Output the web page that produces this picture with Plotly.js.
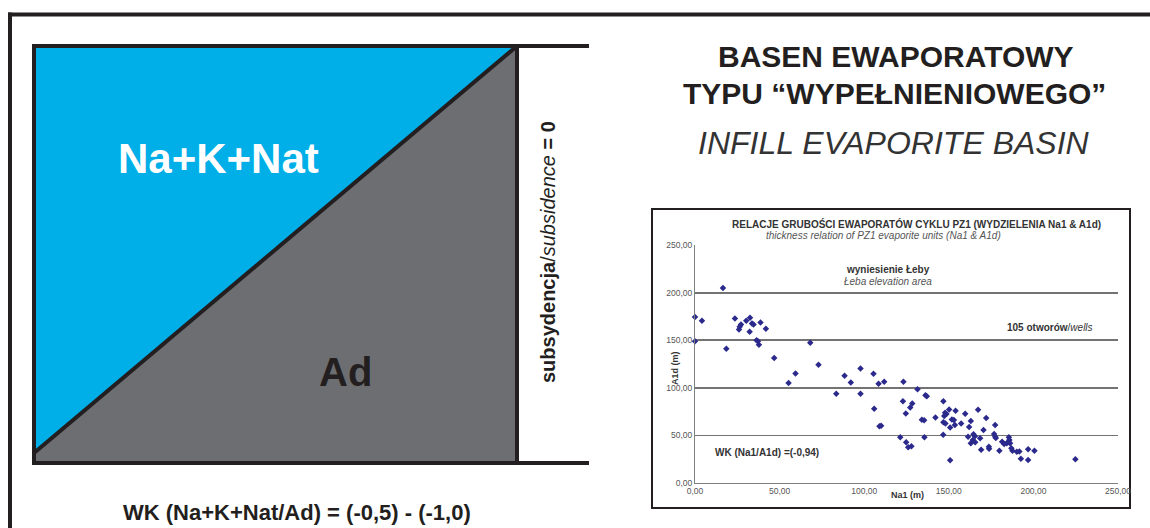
<!DOCTYPE html>
<html>
<head>
<meta charset="utf-8">
<script src="https://cdn.plot.ly/plotly-3.0.1.min.js"></script>
<style>html,body{margin:0;padding:0;background:#fff;}#chart{width:1150px;height:528px;}</style>
</head>
<body>
<div id="chart"></div>
<script>
// ---- Scatter data: thickness of Na1 (x) and A1d (y), metres ----
const na1 = [16.5,0,4.1,0,18.5,23.6,30.3,32.5,27.2,26.4,26,33.7,34.6,32.3,38.7,41.9,36.4,37.2,37.8,46.8,68.1,73,59.4,55.3,
  83.5,88.4,92.1,97.8,97.8,105.5,108.5,111.8,105.9,109,110,123.2,122.9,131.5,136.2,137,128.4,127.2,124.6,134.1,135.4,142.1,121.3,124.8,126,127.9,135.6,
  146.8,150.2,147.8,147.3,148.6,146.8,148,150.8,151.8,153,154,153.6,157.3,159.7,146.7,150.8,167.3,163,162,172.1,170.5,177.4,161.4,164.6,165.4,164.2,163,165.6,168.5,169.1,173.7,173.8,176.8,177.4,177.8,179.9,181.5,182.7,184.3,185.5,185.8,185.2,186.2,187,187.6,190.2,191.7,192.6,196.9,196.9,200.6,224.8];
const a1d = [204.9,174.5,170.3,149,140.9,172.8,170.3,173.5,166.5,164,161.3,167.6,166.5,158.8,168.6,161.9,150,149,145.1,131.2,147.2,124.1,115.1,105,
  93.7,112.6,105.6,120.3,93.7,114.7,104.2,106.3,78,59.5,60.1,106.3,86,98.6,92.3,91,83.6,79.4,73.1,66.4,65.8,68.9,48,42.7,37.5,38.5,48,
  86,77.3,73.8,70.3,72.4,63.7,62.6,58.4,66.8,66.1,75.9,60.9,62.6,72.7,50.7,23.8,76.9,65.1,58.8,68.2,55.6,60.9,48.6,51.1,49,45.1,41.7,42.7,46.9,34.9,38.1,36,51.4,48.6,47.2,33.9,43.3,40.9,41.7,48,45.1,43,41.7,36.4,33.9,32.9,33.2,25.5,35.4,24.1,33.9,24.9];
const tickVals = [0, 50, 100, 150, 200, 250];
const tickText = ["0,00", "50,00", "100,00", "150,00", "200,00", "250,00"];

// ---- Schematic diagram (unit square: Na+K+Nat above the diagonal, Ad below) ----
const blueX = [0, 0, 1, 0];
const blueY = [0.024, 1, 1, 0.024];
const grayX = [0, 1, 1, 0, 0];
const grayY = [0, 0, 1, 0.024, 0];

const W = 1150, H = 528;
const PX = x => x / W;
const PY = y => 1 - y / H;
const FONT = "Liberation Sans, Arial, sans-serif";
const DARK = "#231f20";

const traces = [
  {type: "scatter", mode: "lines", x: grayX, y: grayY, xaxis: "x2", yaxis: "y2",
   fill: "toself", fillcolor: "#6d6e71", line: {width: 0}, hoverinfo: "skip"},
  {type: "scatter", mode: "lines", x: blueX, y: blueY, xaxis: "x2", yaxis: "y2",
   fill: "toself", fillcolor: "#00aee8", line: {width: 0}, hoverinfo: "skip"},
  {type: "scatter", mode: "markers", x: na1, y: a1d, xaxis: "x", yaxis: "y",
   marker: {symbol: "diamond", size: 5, color: "#2b2a8c"}, cliponaxis: false}
];

const line = (x0, y0, x1, y1, w, c) => ({type: "line", xref: "paper", yref: "paper",
  x0: PX(x0), y0: PY(y0), x1: PX(x1), y1: PY(y1), line: {color: c || DARK, width: w}, layer: "above"});

const shapes = [
  // outer frame
  line(8, 14.5, 1150, 14.5, 4),
  line(10, 12.5, 10, 528, 4),
  // diagram square & diagonal
  {type: "rect", xref: "paper", yref: "paper", x0: PX(34), x1: PX(517), y0: PY(463), y1: PY(46),
   line: {color: DARK, width: 4}, layer: "above"},
  line(34, 453, 517, 46, 4),
  line(517, 46, 589, 46, 4),
  line(517, 463, 589, 463, 4),
  // scatter box frame
  {type: "rect", xref: "paper", yref: "paper", x0: PX(652), x1: PX(1130), y0: PY(508), y1: PY(209),
   line: {color: DARK, width: 2}, fillcolor: "#ffffff", layer: "below"}
];

const ann = (text, x, y, size, opts) => Object.assign({
  text: text, xref: "paper", yref: "paper", x: PX(x), y: PY(y), xanchor: "center", yanchor: "middle",
  showarrow: false, font: {family: FONT, size: size, color: DARK}
}, opts || {});

const annotations = [
  ann("<b>Na+K+Nat</b>", 218, 158, 42, {font: {family: FONT, size: 42, color: "#ffffff"}}),
  ann("<b>Ad</b>", 346, 372, 40),
  ann("<b>subsydencja</b>/<i>subsidence</i><b> = 0</b>", 548, 252, 20, {textangle: -90}),
  ann("<b>WK (Na+K+Nat/Ad) = (-0,5) - (-1,0)</b>", 297, 512, 22),
  ann("<b>BASEN EWAPORATOWY</b>", 896, 57, 30),
  ann("<b>TYPU “WYPEŁNIENIOWEGO”</b>", 894, 94, 30),
  ann("<i>INFILL EVAPORITE BASIN</i>", 894, 143, 32, {font: {family: FONT, size: 32, color: "#333333"}}),
  ann("<b>RELACJE GRUBOŚCI EWAPORATÓW CYKLU PZ1 (WYDZIELENIA Na1 &amp; A1d)</b>", 916, 224, 10, {font: {family: FONT, size: 10, color: "#333333"}}),
  ann("<i>thickness relation of PZ1 evaporite units (Na1 &amp; A1d)</i>", 883, 235, 10, {font: {family: FONT, size: 10, color: "#555555"}}),
  ann("<b>wyniesienie Łeby</b>", 888, 269, 10, {font: {family: FONT, size: 10, color: "#333333"}}),
  ann("<i>Łeba elevation area</i>", 888, 281, 10, {font: {family: FONT, size: 10, color: "#555555"}}),
  ann("<b>105 otworów</b>/<i>wells</i>", 1050, 327, 10, {font: {family: FONT, size: 10, color: "#333333"}}),
  ann("<b>WK (Na1/A1d) =(-0,94)</b>", 767, 452, 10, {font: {family: FONT, size: 10, color: "#333333"}}),
  ann("<b>Na1 (m)</b>", 907, 495, 9, {font: {family: FONT, size: 9, color: "#333333"}}),
  ann("<b>A1d (m)</b>", 675, 368, 9, {textangle: -90, font: {family: FONT, size: 9, color: "#333333"}})
];

const layout = {
  width: W, height: H,
  margin: {l: 0, r: 0, t: 0, b: 0, pad: 0},
  paper_bgcolor: "#ffffff",
  plot_bgcolor: "#c2c2c2",
  showlegend: false,
  separators: ",.",
  font: {family: FONT, color: DARK},
  xaxis: {domain: [PX(695), PX(1118)], range: [0, 250], tickvals: tickVals, ticktext: tickText,
    showgrid: false, zeroline: false, showline: true, linecolor: "#808080", linewidth: 1,
    ticks: "", tickfont: {family: FONT, size: 8.5, color: "#555555"}, fixedrange: true},
  yaxis: {domain: [PY(483), PY(245)], range: [0, 250], tickvals: tickVals, ticktext: tickText,
    showgrid: true, gridcolor: "#737373", gridwidth: 1.8, zeroline: false, showline: true,
    linecolor: "#808080", linewidth: 1, ticks: "", tickfont: {family: FONT, size: 8.5, color: "#555555"},
    fixedrange: true},
  xaxis2: {domain: [PX(34), PX(517)], range: [0, 1], visible: false, fixedrange: true, anchor: "y2"},
  yaxis2: {domain: [PY(463), PY(46)], range: [0, 1], visible: false, fixedrange: true, anchor: "x2"},
  shapes: shapes,
  annotations: annotations
};

Plotly.newPlot("chart", traces, layout, {staticPlot: true, displayModeBar: false});
</script>
</body>
</html>
